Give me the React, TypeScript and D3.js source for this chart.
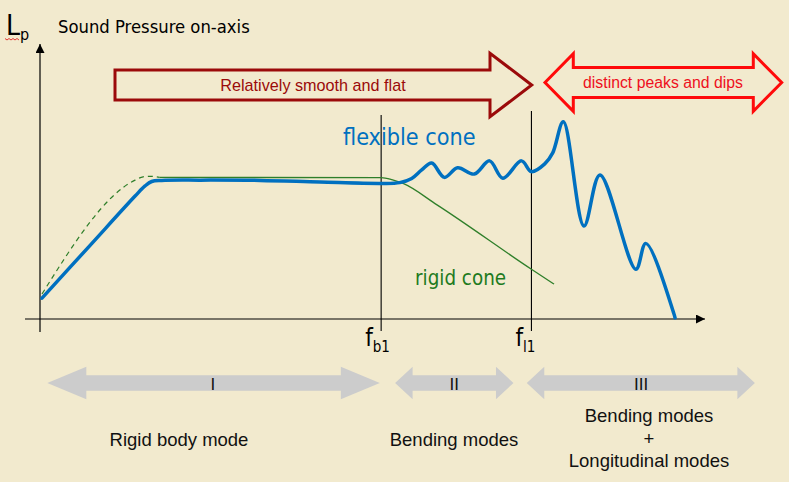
import React from "react";
import * as d3 from "d3";

// ---- data (arbitrary frequency units 0..100, level units 0..100) ----
const flexibleX = [0.3, 7.5, 14.3, 15.8, 16.8, 18.3, 24.1, 33.1, 42.1, 51.3, 54.1, 55.9, 57.4, 58.9, 60.8, 62.8, 65.3, 67.6, 69.6, 72.4, 73.9, 75.9, 77.1, 78.7, 81.8, 84.2, 89.6, 91.1, 95.3, 95.5];
const flexibleY = [7.6, 26.7, 44.7, 48.4, 50.0, 50.4, 50.5, 50.4, 49.8, 49.3, 49.6, 51.1, 54.2, 56.7, 51.5, 55.0, 52.7, 57.5, 51.2, 57.5, 53.6, 56.4, 60.4, 71.7, 33.8, 52.4, 18.1, 27.5, 2.1, 0.4];
const rigidX = [18.0, 51.3, 52.9, 54.6, 59.7, 73.9, 77.3];
const rigidY = [51.5, 51.4, 50.7, 49.3, 41.5, 18.1, 12.7];
const rigidLowX = [0.3, 14.3, 15.5, 16.5, 18.0];
const rigidLowY = [9.1, 50.5, 51.7, 51.9, 51.5];
const markerNames = ["b1", "l1"];
const markerX = [51.3, 73.9];
const regionLabels = ["I", "II", "III"];
const regionStart = [1.1, 53.4, 73.2];
const regionEnd = [51.1, 71.2, 107.5];
const regionHead = [39, 17.5, 17.5];
const regionCenter = [26.0, 62.3, 90.4];

const W = 789;
const H = 482;
const BG = "#F2EACE";
const TAHOMA = "'DejaVu Sans Condensed', 'DejaVu Sans', sans-serif";
const ARIAL = "'Liberation Sans', Arial, sans-serif";

function arrowPath(x0: number, x1: number, yc: number, bh: number, hh: number, hl0: number, hl1: number, dbl: boolean) {
  const p: string[] = [];
  if (dbl) {
    p.push(`M${x0},${yc}`);
    p.push(`L${x0 + hl0},${yc - hh}`);
    p.push(`L${x0 + hl0},${yc - bh}`);
  } else {
    p.push(`M${x0},${yc - bh}`);
  }
  p.push(`L${x1 - hl1},${yc - bh}`);
  p.push(`L${x1 - hl1},${yc - hh}`);
  p.push(`L${x1},${yc}`);
  p.push(`L${x1 - hl1},${yc + hh}`);
  p.push(`L${x1 - hl1},${yc + bh}`);
  if (dbl) {
    p.push(`L${x0 + hl0},${yc + bh}`);
    p.push(`L${x0 + hl0},${yc + hh}`);
  } else {
    p.push(`L${x0},${yc + bh}`);
  }
  p.push("Z");
  return p.join(" ");
}

export default function App() {
  const x = d3.scaleLinear().domain([0, 100]).range([40, 705]);
  const y = d3.scaleLinear().domain([0, 100]).range([319, 44]);

  const flex = flexibleX.map((v, i) => [v, flexibleY[i]] as [number, number]);
  const rigid = rigidX.map((v, i) => [v, rigidY[i]] as [number, number]);
  const rigidLow = rigidLowX.map((v, i) => [v, rigidLowY[i]] as [number, number]);

  const lineCR = d3.line<[number, number]>().x((d) => x(d[0])).y((d) => y(d[1])).curve(d3.curveCatmullRom.alpha(0.5));
  const lineMono = d3.line<[number, number]>().x((d) => x(d[0])).y((d) => y(d[1])).curve(d3.curveMonotoneX);

  const axisY = y(0);
  const wavy = d3.range(0, 8).map((i) => `${i === 0 ? "M" : "L"}${5 + i * 2},${i % 2 === 0 ? 38.5 : 40}`).join(" ");

  return (
    <svg width={W} height={H} style={{ position: "absolute", left: 0, top: 0, display: "block" }}>
      <defs>
        <marker id="ah" viewBox="0 0 10 10" refX="10" refY="5" markerWidth="9" markerHeight="9" markerUnits="userSpaceOnUse" orient="auto">
          <path d="M0,0 L10,5 L0,10 Z" fill="#000" />
        </marker>
      </defs>
      <rect x={0} y={0} width={W} height={H} fill={BG} />

      {/* title */}
      <text x={6} y={35} fontFamily={TAHOMA} fontSize={28} fill="#000">L</text>
      <text x={20} y={40} fontFamily={TAHOMA} fontSize={16} fill="#000">p</text>
      <path d={wavy} fill="none" stroke="#e02020" strokeWidth={0.9} />
      <text x={58} y={33} fontFamily={TAHOMA} fontSize={18.3} fill="#000">Sound Pressure on-axis</text>

      {/* axes */}
      <line x1={x(0)} y1={332} x2={x(0)} y2={y(100)} stroke="#000" strokeWidth={1.2} markerEnd="url(#ah)" />
      <line x1={25} y1={axisY} x2={x(100)} y2={axisY} stroke="#000" strokeWidth={1.2} markerEnd="url(#ah)" />

      {/* markers */}
      {markerX.map((m, i) => (
        <g key={markerNames[i]}>
          <line x1={x(m)} y1={i === 0 ? 115 : 111} x2={x(m)} y2={331} stroke="#000" strokeWidth={1.1} />
          <text x={x(m) - 16} y={346} fontFamily={TAHOMA} fontSize={24} fill="#000">
            f<tspan fontSize={15} dy={5.5}>{markerNames[i]}</tspan>
          </text>
        </g>
      ))}

      {/* curves */}
      <path d={lineMono(rigidLow) || ""} fill="none" stroke="#2f7f2a" strokeWidth={1.2} strokeDasharray="5,4" />
      <path d={lineMono(rigid) || ""} fill="none" stroke="#2f7f2a" strokeWidth={1.3} />
      <path d={lineCR(flex) || ""} fill="none" stroke="#0070C0" strokeWidth={3.5} strokeLinejoin="round" strokeLinecap="round" />

      <text x={343} y={145} fontFamily={TAHOMA} fontSize={23.2} fill="#0070C0">flexible cone</text>
      <text x={415} y={285} fontFamily={TAHOMA} fontSize={20.4} fill="#1e7b1e">rigid cone</text>

      {/* top arrows */}
      <path d={arrowPath(115, 531.7, 85, 15, 31.7, 0, 41.7, false)} fill="none" stroke="#9b0a0a" strokeWidth={3} strokeLinejoin="miter" />
      <text x={313} y={90.5} textAnchor="middle" fontFamily={ARIAL} fontSize={16.2} fill="#9b0a0a">Relatively smooth and flat</text>
      <path d={arrowPath(545, 781.7, 82.5, 15, 28.8, 28.3, 28.4, true)} fill="none" stroke="#ff0a0a" strokeWidth={3} strokeLinejoin="miter" />
      <text x={663} y={87.5} textAnchor="middle" fontFamily={ARIAL} fontSize={15.8} fill="#ee1020">distinct peaks and dips</text>

      {/* region arrows */}
      {regionLabels.map((lab, i) => (
        <g key={lab}>
          <path d={arrowPath(x(regionStart[i]), x(regionEnd[i]), 383, 7.8, 16.2, regionHead[i], regionHead[i], true)} fill="#CCCCCC" />
          <text x={x(regionCenter[i])} y={389.5} textAnchor="middle" fontFamily={ARIAL} fontSize={17} fill="#111">{lab}</text>
        </g>
      ))}

      <text x={179} y={446} textAnchor="middle" fontFamily={ARIAL} fontSize={18.5} fill="#111">Rigid body mode</text>
      <text x={454} y={446} textAnchor="middle" fontFamily={ARIAL} fontSize={18.5} fill="#111">Bending modes</text>
      <text x={649} y={422} textAnchor="middle" fontFamily={ARIAL} fontSize={18.5} fill="#111">Bending modes</text>
      <text x={649} y={445} textAnchor="middle" fontFamily={ARIAL} fontSize={18.5} fill="#111">+</text>
      <text x={649} y={467} textAnchor="middle" fontFamily={ARIAL} fontSize={18.5} fill="#111">Longitudinal modes</text>
    </svg>
  );
}
